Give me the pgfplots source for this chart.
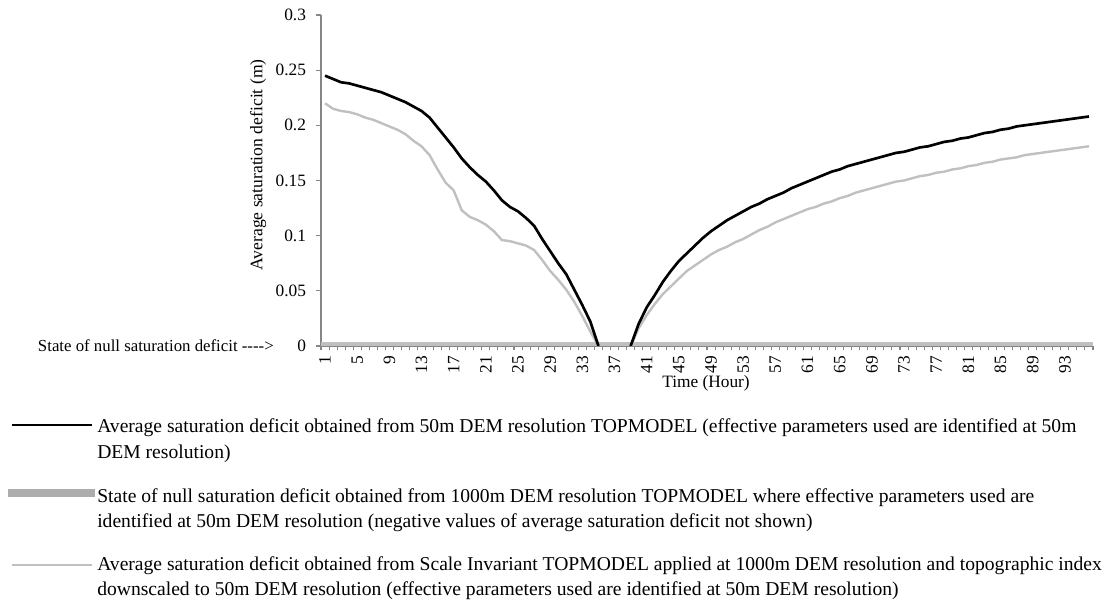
\documentclass[border=0pt]{standalone}
\usepackage{pgfplots}
\pgfplotsset{compat=1.18}
\usepackage{fontspec}
\setmainfont{Liberation Serif}
\definecolor{lgray}{RGB}{192,192,192}
\definecolor{axgray}{RGB}{134,134,134}
\newcommand{\PX}[2]{({((#1)-321)*0.75pt},{(346-(#2))*0.75pt})}

\pgfplotstableread{
x y
1 0.245
2 0.242
3 0.239
4 0.238
5 0.236
6 0.234
7 0.232
8 0.230
9 0.227
10 0.224
11 0.221
12 0.217
13 0.213
14 0.207
15 0.198
16 0.189
17 0.180
18 0.170
19 0.162
20 0.155
21 0.149
22 0.141
23 0.132
24 0.126
25 0.122
26 0.116
27 0.109
28 0.097
29 0.086
30 0.075
31 0.065
32 0.051
33 0.037
34 0.022
35 0.0
}\blackA

\pgfplotstableread{
x y
39 0.0
40 0.020
41 0.035
42 0.046
43 0.058
44 0.068
45 0.077
46 0.084
47 0.091
48 0.098
49 0.104
50 0.109
51 0.114
52 0.118
53 0.122
54 0.126
55 0.129
56 0.133
57 0.136
58 0.139
59 0.143
60 0.146
61 0.149
62 0.152
63 0.155
64 0.158
65 0.160
66 0.163
67 0.165
68 0.167
69 0.169
70 0.171
71 0.173
72 0.175
73 0.176
74 0.178
75 0.180
76 0.181
77 0.183
78 0.185
79 0.186
80 0.188
81 0.189
82 0.191
83 0.193
84 0.194
85 0.196
86 0.197
87 0.199
88 0.200
89 0.201
90 0.202
91 0.203
92 0.204
93 0.205
94 0.206
95 0.207
96 0.208
}\blackB

\pgfplotstableread{
x y
1 0.220
2 0.215
3 0.213
4 0.212
5 0.210
6 0.207
7 0.205
8 0.202
9 0.199
10 0.196
11 0.192
12 0.186
13 0.181
14 0.173
15 0.160
16 0.148
17 0.141
18 0.123
19 0.117
20 0.114
21 0.110
22 0.104
23 0.096
24 0.095
25 0.093
26 0.091
27 0.087
28 0.078
29 0.068
30 0.060
31 0.051
32 0.040
33 0.027
34 0.013
35 0.0
}\grayA

\pgfplotstableread{
x y
39 0.0
40 0.016
41 0.028
42 0.038
43 0.047
44 0.054
45 0.061
46 0.068
47 0.073
48 0.078
49 0.083
50 0.087
51 0.090
52 0.094
53 0.097
54 0.101
55 0.105
56 0.108
57 0.112
58 0.115
59 0.118
60 0.121
61 0.124
62 0.126
63 0.129
64 0.131
65 0.134
66 0.136
67 0.139
68 0.141
69 0.143
70 0.145
71 0.147
72 0.149
73 0.150
74 0.152
75 0.154
76 0.155
77 0.157
78 0.158
79 0.160
80 0.161
81 0.163
82 0.164
83 0.166
84 0.167
85 0.169
86 0.170
87 0.171
88 0.173
89 0.174
90 0.175
91 0.176
92 0.177
93 0.178
94 0.179
95 0.180
96 0.181
}\grayB

\begin{document}
\begin{tikzpicture}
\useasboundingbox \PX{0}{0} rectangle \PX{1109}{605};
\begin{axis}[
  at={(0,0)}, anchor=south west, scale only axis,
  width=579pt, height=248.25pt,
  xmin=0.5, xmax=96.5, ymin=0, ymax=0.3,
  axis x line=bottom, axis y line=left,
  axis line style={axgray, line width=0.8pt, -},
  tick align=outside,
  xtick={1,5,...,93},
  major x tick style={draw=none},
  minor xtick={0.5,1.5,...,96.5},
  minor tick length=3pt,
  major tick length=3.75pt,
  ytick={0,0.05,0.1,0.15,0.2,0.25,0.3},
  yticklabels={0,0.05,0.1,0.15,0.2,0.25,0.3},
  tick style={axgray, line width=0.8pt},
  /pgf/number format/assume math mode=true,
  xticklabel style={rotate=90, anchor=east, font=\fontsize{13}{13}\selectfont},
  yticklabel style={font=\fontsize{13}{13}\selectfont, xshift=-4pt},
]
\addplot[lgray, line width=6pt, forget plot] coordinates {(0.5,0) (96.5,0)};
\addplot[lgray, line width=1.8pt] table[x=x,y=y] {\grayA};
\addplot[lgray, line width=1.8pt] table[x=x,y=y] {\grayB};
\addplot[black, line width=2pt] table[x=x,y=y] {\blackA};
\addplot[black, line width=2pt] table[x=x,y=y] {\blackB};
\end{axis}
\node[rotate=90, font=\fontsize{13.2}{15}\selectfont] at \PX{258}{165} {Average saturation deficit (m)};
\node[font=\fontsize{13}{15}\selectfont] at \PX{706}{383} {Time (Hour)};
\node[anchor=east, font=\fontsize{12.6}{15}\selectfont, inner sep=0pt] at \PX{274}{346} {State of null saturation deficit {-}{-}{-}{-}>};
% legend
\draw[black, line width=2pt] \PX{12}{425} -- \PX{92}{425};
\draw[lgray!90!black, line width=6pt] \PX{8}{493} -- \PX{95}{493};
\draw[lgray, line width=1.5pt] \PX{12}{565} -- \PX{92}{565};
\begin{scope}[every node/.style={anchor=base west, inner sep=0pt, font=\fontsize{14.7}{17}\selectfont}]
\node at \PX{97}{433} {Average saturation deficit obtained from 50m DEM resolution TOPMODEL (effective parameters used are identified at 50m};
\node at \PX{97}{459} {DEM resolution)};
\node at \PX{97}{503} {State of null saturation deficit obtained from 1000m DEM resolution TOPMODEL where effective parameters used are};
\node at \PX{97}{528} {identified at 50m DEM resolution (negative values of average saturation deficit not shown)};
\node at \PX{97}{571} {Average saturation deficit obtained from Scale Invariant TOPMODEL applied at 1000m DEM resolution and topographic index};
\node at \PX{97}{596} {downscaled to 50m DEM resolution (effective parameters used are identified at 50m DEM resolution)};
\end{scope}
\end{tikzpicture}
\end{document}
